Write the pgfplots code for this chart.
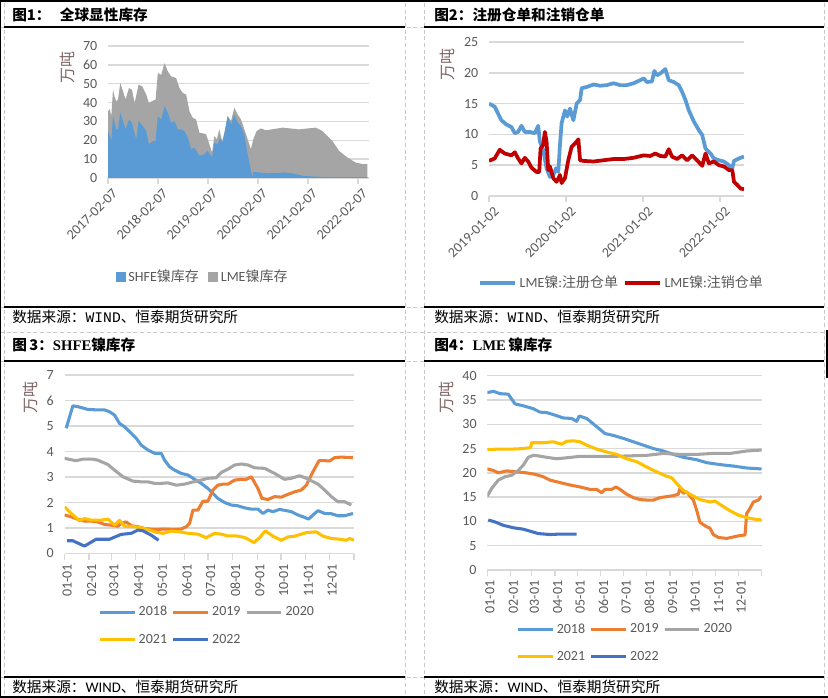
\documentclass[border=0pt]{standalone}
\usepackage{fontspec}
\usepackage{pgfplots}
\pgfplotsset{compat=1.18}
\setmainfont{Carlito}
\newfontfamily\cjk{Noto Sans CJK SC}
\newfontfamily\mono{Liberation Mono}
\newfontfamily\serifb{Liberation Serif}
\definecolor{cblue}{HTML}{5B9BD5}
\definecolor{corange}{HTML}{ED7D31}
\definecolor{cgrey}{HTML}{A5A5A5}
\definecolor{cyellow}{HTML}{FFC000}
\definecolor{cdblue}{HTML}{4472C4}
\definecolor{cred}{HTML}{C00000}
\definecolor{gridc}{HTML}{D9D9D9}
\definecolor{tickc}{HTML}{595959}
\definecolor{unitc}{HTML}{806666}
\definecolor{dashc}{HTML}{C8C8C8}
\pgfplotsset{
  base/.style={
    scale only axis,
    anchor=south west,
    axis lines*=left,
    y axis line style={draw=none},
    x axis line style={draw=gridc, line width=0.9pt},
    ymajorgrids,
    major grid style={draw=gridc, line width=1.1pt},
    ytick style={draw=none},
    xtick style={draw=gridc, line width=0.9pt},
    tick align=outside,
    major tick length=4.5pt,
    tick label style={font=\fontsize{10.5}{12}\selectfont, text=tickc},
    /pgf/number format/assume math mode=true,
    legend style={draw=none, fill=none, inner sep=0pt, font=\fontsize{10.5}{12}\selectfont, text=tickc},
    legend cell align=left,
  },
  lineleg/.style={
    legend image code/.code={\draw[##1, line width=2.3pt] (0pt,0pt) -- (26pt,0pt);},
  },
}
\begin{document}
\begin{tikzpicture}
\begin{scope}[x=0.75pt,y=-0.75pt]
\path[use as bounding box] (0,0) rectangle (828,698);
% dashed frame
\draw[dashc, line width=0.6pt, dash pattern=on 3pt off 2pt] (4,3) -- (4,697) (405,3) -- (405,697) (424,3) -- (424,697) (824,3) -- (824,697);
\draw[dashc, line width=0.6pt, dash pattern=on 3pt off 2pt] (0,27) -- (828,27) (0,307) -- (828,307) (0,332) -- (828,332) (0,361) -- (828,361) (0,677) -- (828,677);
% solid lines
\draw[black, line width=2pt] (0,1) -- (828,1);
\draw[black, line width=1.5pt] (0,697) -- (828,697);
\draw[black, line width=1pt] (0.5,0) -- (0.5,698);
\draw[black, line width=1.5pt] (827,330) -- (827,378);
\foreach \yy in {27,307,361,677} {
  \draw[black, line width=1.1pt] (4,\yy) -- (405,\yy) (424,\yy) -- (824,\yy);
}
% titles
\node[anchor=west, inner sep=0pt, font=\cjk\bfseries\fontsize{11}{13}\selectfont] at (12,15) {图1：\hspace{7pt}全球显性库存};
\node[anchor=west, inner sep=0pt, font=\cjk\bfseries\fontsize{11}{13}\selectfont] at (434,15) {图2：注册仓单和注销仓单};
\node[anchor=west, inner sep=0pt, font=\cjk\bfseries\fontsize{11}{13}\selectfont] at (12,345) {图\,3：{\serifb\bfseries SHFE}镍库存};
\node[anchor=west, inner sep=0pt, font=\cjk\bfseries\fontsize{11}{13}\selectfont] at (434,345) {图4：{\serifb\bfseries LME}\,镍库存};
% footers
\node[anchor=west, inner sep=0pt, font=\cjk\fontsize{11}{13}\selectfont] at (12,317) {数据来源：{\mono WIND}、恒泰期货研究所};
\node[anchor=west, inner sep=0pt, font=\cjk\fontsize{11}{13}\selectfont] at (434,317) {数据来源：{\mono WIND}、恒泰期货研究所};
\node[anchor=west, inner sep=0pt, font=\cjk\fontsize{11}{13}\selectfont] at (12,687) {数据来源：{\rmfamily WIND}、恒泰期货研究所};
\node[anchor=west, inner sep=0pt, font=\cjk\fontsize{11}{13}\selectfont] at (434,687) {数据来源：{\rmfamily WIND}、恒泰期货研究所};
% unit labels
\node[rotate=90, inner sep=0pt, text=unitc, font=\cjk\fontsize{12}{14}\selectfont] at (67,68) {万吨};
\node[rotate=90, inner sep=0pt, text=unitc, font=\cjk\fontsize{12}{14}\selectfont] at (447,65) {万吨};
\node[rotate=90, inner sep=0pt, text=unitc, font=\cjk\fontsize{12}{14}\selectfont] at (30,397) {万吨};
\node[rotate=90, inner sep=0pt, text=unitc, font=\cjk\fontsize{12}{14}\selectfont] at (446,398) {万吨};
\end{scope}

% ---------- Panel 1 ----------
\begin{axis}[base,
  at={(108*0.75pt,-178*0.75pt)}, width=261*0.75pt, height=132*0.75pt,
  xmin=0, xmax=5.22, ymin=0, ymax=70,
  ytick={0,10,...,70},
  xtick={0,1,2,3,4,5},
  xticklabels={2017-02-07,2018-02-07,2019-02-07,2020-02-07,2021-02-07,2022-02-07},
  xticklabel style={rotate=45, anchor=east, xshift=3.5pt, yshift=-7.5pt},
  legend columns=2,
  legend style={at={(0.364,-0.75)}, anchor=center, /tikz/every even column/.append style={column sep=5pt}},
  legend image code/.code={\fill[#1] (0pt,-3.75pt) rectangle (7.5pt,3.75pt);},
]
\addlegendimage{fill=cblue, draw=none}
\addlegendentry{SHFE{\cjk 镍库存}}
\addlegendimage{fill=cgrey, draw=none}
\addlegendentry{LME{\cjk 镍库存}}
\addplot[fill=cgrey, draw=none, forget plot] coordinates {(0,35.4)(0.033,36.5)(0.066,32.8)(0.1,46.8)(0.133,43)(0.166,40.7)(0.2,41.6)(0.246,50.4)(0.299,46)(0.352,41.6)(0.419,47.7)(0.479,46.8)(0.532,39.8)(0.612,49.5)(0.685,48.6)(0.765,44.2)(0.818,39.8)(0.898,41)(0.951,41.6)(0.997,55.6)(1.064,54.7)(1.13,60.9)(1.197,56.5)(1.263,53.9)(1.363,53)(1.43,47.7)(1.496,45.1)(1.563,44.2)(1.629,35.4)(1.695,31.9)(1.762,31)(1.828,24)(1.895,23.7)(1.961,23.2)(2.028,17.9)(2.081,13.5)(2.128,22.3)(2.174,20.5)(2.227,25.8)(2.281,19.6)(2.327,24)(2.394,32.8)(2.46,30.2)(2.527,37.2)(2.593,33.7)(2.66,31)(2.726,25.8)(2.793,20.5)(2.859,15.3)(2.906,20.5)(2.972,24.9)(3.059,26.3)(3.158,25.3)(3.491,26.7)(3.823,25.8)(4.156,26.7)(4.289,24.9)(4.488,19.6)(4.621,14.4)(4.787,10.9)(4.953,8.2)(5.086,7.4)(5.186,7.4)} \closedcycle;
\addplot[fill=cblue, draw=none, forget plot] coordinates {(0,24.9)(0.066,19.6)(0.1,32.8)(0.166,25.8)(0.2,25.8)(0.246,34.6)(0.312,29.3)(0.352,25.8)(0.419,31)(0.479,29.3)(0.565,20.5)(0.612,30.2)(0.698,27.5)(0.765,24.9)(0.818,17.9)(0.898,19.6)(0.951,19.6)(0.997,32.8)(1.064,31)(1.13,38)(1.197,34.6)(1.263,29.3)(1.33,30.2)(1.396,25.8)(1.463,25.8)(1.529,24.9)(1.596,21.4)(1.662,15.3)(1.729,16.1)(1.828,11.8)(1.928,12.6)(1.995,14.4)(2.081,10.9)(2.128,18.8)(2.194,17.9)(2.241,21.4)(2.294,18.8)(2.394,32.8)(2.46,28.4)(2.527,33.7)(2.593,29.3)(2.66,27.5)(2.726,23.2)(2.793,12.6)(2.859,3.9)(2.892,0.4)(2.906,3.3)(3.025,3)(3.158,2.5)(3.424,2.6)(3.491,3)(3.69,2.5)(3.89,1.2)(4.156,0.7)(4.488,0.5)(5.186,0.5)} \closedcycle;
\end{axis}

% ---------- Panel 2 ----------
\begin{axis}[base, lineleg,
  at={(489*0.75pt,-196*0.75pt)}, width=255*0.75pt, height=154*0.75pt,
  xmin=0, xmax=3.313, ymin=0, ymax=25,
  ytick={0,5,...,25},
  xtick={0,1,2,3},
  xticklabels={2019-01-02,2020-01-02,2021-01-02,2022-01-02},
  xticklabel style={rotate=45, anchor=east, xshift=3.5pt, yshift=-8pt},
  legend columns=2,
  legend style={at={(0.522,-0.565)}, anchor=center, /tikz/every even column/.append style={column sep=2pt}},
  legend image code/.code={\draw[#1, line width=2.8pt] (0pt,0pt) -- (26pt,0pt);},
]
\addplot[cblue, line width=2.8pt, line join=round] coordinates {(0,15)(0.074,14.5)(0.117,13.4)(0.161,12.3)(0.226,11.6)(0.291,11.2)(0.335,10.2)(0.378,10.4)(0.422,11.4)(0.465,10.4)(0.53,10.4)(0.596,10.2)(0.639,11.4)(0.661,8.8)(0.704,7.5)(0.748,4.5)(0.791,3.1)(0.835,3.4)(0.87,4.5)(0.9,3.9)(0.922,8.3)(0.943,11.8)(0.987,13.9)(1.017,12.9)(1.052,14.2)(1.096,12.3)(1.139,15)(1.183,15.6)(1.204,17.5)(1.27,17.7)(1.357,18.1)(1.443,17.9)(1.53,18)(1.617,18.3)(1.704,18)(1.791,18)(1.878,18.3)(1.965,18.8)(2.009,19.1)(2.052,18.5)(2.117,18.6)(2.148,20.3)(2.183,19.6)(2.226,19.9)(2.291,20.6)(2.335,18.8)(2.4,18.5)(2.465,18)(2.509,16.9)(2.552,15.6)(2.596,13.9)(2.661,12.1)(2.726,10.7)(2.77,9.9)(2.813,7.7)(2.878,6.9)(2.922,6.1)(2.987,5.8)(3.052,5.6)(3.117,5)(3.161,4.5)(3.183,5.7)(3.248,6.1)(3.313,6.4)};
\addlegendentry{LME{\cjk 镍}:{\cjk 注册仓单}}
\addplot[cred, line width=2.8pt, line join=round] coordinates {(0,5.7)(0.074,6.1)(0.139,7.5)(0.204,6.9)(0.291,6.6)(0.335,7.1)(0.378,6.1)(0.422,5.3)(0.465,6.2)(0.509,5.6)(0.552,4.6)(0.617,3.9)(0.652,3.9)(0.67,7.7)(0.704,8.3)(0.726,10.4)(0.748,8.8)(0.77,4.2)(0.791,4.8)(0.835,2.9)(0.878,2.3)(0.922,3.4)(0.943,2.1)(0.987,2.9)(1.03,5.8)(1.074,8)(1.117,8.5)(1.161,9.2)(1.183,5.8)(1.226,5.7)(1.357,5.6)(1.487,5.8)(1.617,6)(1.748,6)(1.878,6.2)(2.009,6.6)(2.096,6.5)(2.161,6.9)(2.226,6.5)(2.291,6.4)(2.335,7.6)(2.378,6.4)(2.443,6)(2.509,6.6)(2.574,5.8)(2.639,6.6)(2.704,5.8)(2.77,4.9)(2.813,6.9)(2.857,5.3)(2.922,5.6)(2.987,5)(3.052,4.8)(3.117,4.2)(3.161,4.2)(3.183,2.3)(3.226,1.8)(3.27,1.2)(3.313,1.1)};
\addlegendentry{LME{\cjk 镍}:{\cjk 注销仓单}}
\end{axis}

% ---------- Panel 3 ----------
\begin{axis}[base, lineleg,
  at={(64.5*0.75pt,-553.5*0.75pt)}, width=289.5*0.75pt, height=178.5*0.75pt,
  xmin=0, xmax=365, ymin=0, ymax=7,
  ytick={0,1,...,7},
  xtick={0,31,59,90,120,151,181,212,243,273,304,334,365},
  xticklabels={01-01,02-01,03-01,04-01,05-01,06-01,07-01,08-01,09-01,10-01,11-01,12-01,{}},
  xticklabel style={rotate=90, anchor=east, yshift=-2pt},
  legend columns=3,
  legend style={at={(0.116,-0.28)}, anchor=north west, /tikz/every even column/.append style={column sep=1.5pt}, row sep=8pt},
]
\addplot[cblue, line width=2.3pt, line join=round] coordinates {(2.1,4.91)(10.5,5.79)(16.8,5.76)(29.4,5.65)(42.1,5.63)(50.5,5.63)(56.8,5.56)(63.1,5.43)(69.4,5.1)(75.7,4.97)(82,4.78)(90.4,4.52)(96.7,4.25)(105.1,4.06)(113.5,3.93)(122,3.93)(126.2,3.66)(132.5,3.4)(138.8,3.27)(147.2,3.14)(155.6,3.08)(164,2.91)(172.4,2.75)(180.8,2.55)(187.1,2.36)(193.4,2.16)(201.9,2.0)(210.3,1.9)(218.7,1.87)(227.1,1.79)(235.5,1.74)(243.9,1.74)(250.2,1.57)(256.5,1.7)(262.8,1.64)(271.2,1.73)(279.6,1.68)(286,1.64)(294.4,1.51)(300.7,1.44)(307.8,1.35)(313.3,1.51)(319.6,1.68)(328,1.57)(336.4,1.56)(344.8,1.48)(353.2,1.48)(363.7,1.57)};
\addlegendentry{2018}
\addplot[corange, line width=2.3pt, line join=round] coordinates {(0,1.51)(8.4,1.44)(16.8,1.34)(25.2,1.27)(33.6,1.27)(42.1,1.24)(50.5,1.14)(58.9,1.11)(67.3,1.07)(71.5,1.18)(77.8,1.24)(84.1,1.09)(92.5,1.05)(100.9,0.98)(113.5,0.94)(126.2,0.96)(138.8,0.94)(147.2,0.96)(153.5,1.05)(157.7,1.18)(161.9,1.7)(168.2,1.7)(174.5,2.05)(180.8,2.05)(187.1,2.49)(193.4,2.68)(199.7,2.72)(206.1,2.72)(214.5,2.88)(222.9,2.91)(229.2,2.91)(235.5,3.01)(243.9,2.55)(248.9,2.16)(256.5,2.12)(264.9,2.23)(273.3,2.21)(281.7,2.32)(290.2,2.42)(298.6,2.49)(304.9,2.68)(313.3,3.21)(320.9,3.64)(328,3.64)(334.3,3.63)(340.6,3.76)(349,3.78)(363.7,3.76)};
\addlegendentry{2019}
\addplot[cgrey, line width=2.3pt, line join=round] coordinates {(0,3.73)(14.7,3.64)(23.1,3.7)(35.7,3.7)(42.1,3.66)(54.7,3.49)(63.1,3.27)(73.6,3.01)(86.2,2.84)(96.7,2.81)(105.1,2.81)(113.5,2.75)(122,2.75)(130.4,2.77)(140.9,2.68)(151.4,2.72)(159.8,2.79)(172.4,2.88)(180.8,2.95)(191.3,2.97)(197.6,3.18)(206.1,3.31)(214.5,3.47)(222.9,3.51)(231.3,3.47)(239.7,3.36)(252.3,3.34)(264.9,3.14)(277.5,2.91)(286,2.95)(296.5,3.05)(304.9,2.95)(319.6,2.72)(328,2.49)(336.4,2.23)(344.8,2.03)(353.2,2.03)(361.6,1.9)};
\addlegendentry{2020}
\addplot[cyellow, line width=2.3pt, line join=round] coordinates {(0,1.83)(8.4,1.57)(18.9,1.28)(25.2,1.37)(33.6,1.31)(46.3,1.31)(54.7,1.35)(63.1,1.11)(69.4,1.3)(75.7,1.07)(88.3,1.05)(100.9,0.98)(113.5,0.85)(124.1,0.79)(134.6,0.88)(145.1,0.85)(155.6,0.79)(168.2,0.76)(178.7,0.62)(189.2,0.79)(197.6,0.76)(206.1,0.69)(216.6,0.69)(227.1,0.63)(238.9,0.43)(246,0.62)(253.2,0.89)(262.8,0.68)(273.3,0.52)(281.7,0.65)(290.2,0.68)(304.9,0.82)(317.5,0.85)(325.9,0.68)(336.4,0.59)(346.9,0.56)(355.3,0.52)(359.5,0.59)(365,0.52)};
\addlegendentry{2021}
\addplot[cdblue, line width=2.3pt, line join=round] coordinates {(3.4,0.5)(10.5,0.5)(25.2,0.29)(39.9,0.56)(56.8,0.56)(71.5,0.75)(84.1,0.79)(92.5,0.92)(98.8,0.89)(109.3,0.72)(118.6,0.52)};
\addlegendentry{2022}
\end{axis}

% ---------- Panel 4 ----------
\begin{axis}[base, lineleg,
  at={(487.3*0.75pt,-570*0.75pt)}, width=274.4*0.75pt, height=194.3*0.75pt,
  xmin=0, xmax=365, ymin=0, ymax=40,
  ytick={0,5,...,40},
  xtick={0,31,59,90,120,151,181,212,243,273,304,334,365},
  xticklabels={01-01,02-01,03-01,04-01,05-01,06-01,07-01,08-01,09-01,10-01,11-01,12-01,{}},
  xticklabel style={rotate=90, anchor=east, yshift=-2pt},
  legend columns=3,
  legend style={at={(0.105,-0.26)}, anchor=north west, /tikz/every even column/.append style={column sep=1.5pt}, row sep=8pt},
]
\addplot[cblue, line width=2.3pt, line join=round] coordinates {(0,36.5)(8,36.8)(16.9,36.3)(27.9,36.2)(36.8,34.2)(47.9,33.8)(61.2,33.2)(70.1,32.5)(78.9,32.4)(87.8,32)(101.1,31.3)(112.2,31.2)(118.8,30.6)(122.4,31.7)(132.2,31.2)(143.2,29.8)(156.5,28.1)(167.6,27.7)(180.9,27.1)(194.2,26.4)(207.5,25.7)(220.8,25)(234.1,24.5)(247.5,23.8)(260.8,23.2)(278.5,22.7)(291.8,22.1)(309.5,21.7)(327.3,21.4)(345,21)(365,20.8)};
\addlegendentry{2018}
\addplot[corange, line width=2.3pt, line join=round] coordinates {(0,20.8)(8,20.5)(14.6,20)(25.7,20.4)(39,20.2)(52.3,20)(63.4,19.7)(74.5,19.2)(83.4,18.5)(96.7,18)(110,17.5)(123.3,17.1)(136.6,16.6)(145.5,16.6)(152.1,15.9)(156.5,16.6)(165.4,16.6)(171.2,17.1)(176.5,16.6)(185.4,15.6)(194.2,14.9)(203.1,14.5)(212,14.4)(220.8,14.4)(229.7,14.9)(238.6,15.1)(247.5,15.3)(254.1,15.6)(256.3,16.8)(260.8,15.8)(265.2,16.1)(269.6,15.2)(274.1,14.4)(278.5,12.3)(282.9,9.8)(291.8,8.9)(296.2,8.6)(300.7,7.3)(307.3,6.7)(318.4,6.5)(327.3,6.8)(336.1,7.1)(342.8,7.2)(345,11.6)(349.4,12.7)(353.9,14)(360.5,14.4)(365,15.2)};
\addlegendentry{2019}
\addplot[cgrey, line width=2.3pt, line join=round] coordinates {(0,15.2)(5.8,16.8)(14.6,18.5)(23.5,19.2)(32.4,19.5)(41.2,20.5)(47.9,21.6)(54.5,23.2)(61.2,23.6)(67.8,23.5)(78.9,23.2)(92.2,22.9)(105.5,23.1)(123.3,23.4)(141,23.4)(167.6,23.4)(189.8,23.5)(212,23.6)(234.1,24)(256.3,23.8)(278.5,23.8)(300.7,24)(322.8,24)(345,24.5)(365,24.7)};
\addlegendentry{2020}
\addplot[cyellow, line width=2.3pt, line join=round] coordinates {(0,24.8)(16.9,24.9)(34.6,24.9)(47.9,25)(57.6,25.2)(59,26.2)(74.5,26.2)(87.8,26.4)(98.9,25.9)(105.5,26.5)(114.4,26.6)(123.3,26.4)(132.2,25.7)(145.5,24.9)(158.8,24.3)(172.1,23.8)(185.4,22.9)(198.7,22.3)(212,21.2)(225.3,20.2)(238.6,19.3)(245.2,19)(251.9,17.8)(260.8,16.4)(271.8,15.4)(282.9,14.5)(296.2,14)(302.9,14.2)(309.5,13.5)(322.8,12.2)(333.9,11.3)(345,10.8)(353.9,10.5)(365,10.3)};
\addlegendentry{2021}
\addplot[cdblue, line width=2.3pt, line join=round] coordinates {(1.3,10.3)(10.2,9.9)(21.3,9.2)(34.6,8.7)(47.9,8.4)(56.8,8)(67.8,7.5)(83.4,7.3)(96.7,7.4)(118.8,7.4)};
\addlegendentry{2022}
\end{axis}
\end{tikzpicture}
\end{document}
